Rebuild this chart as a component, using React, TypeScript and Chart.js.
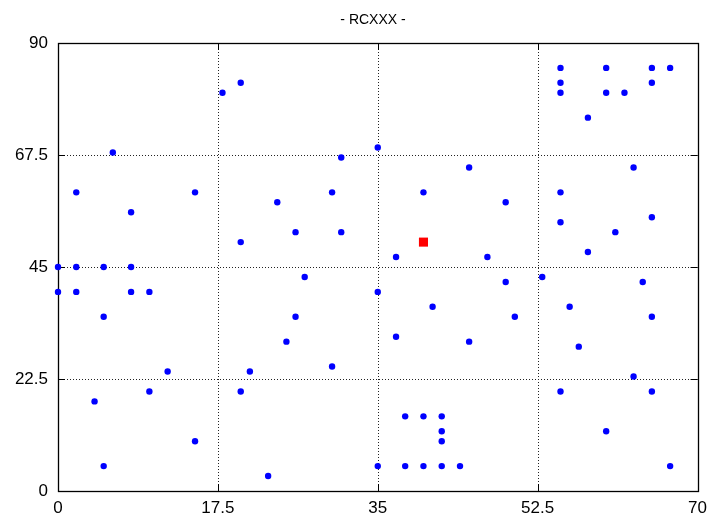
import React, { useEffect, useRef } from "react";
import { Chart, registerables } from "chart.js";

Chart.register(...registerables);

const chartTitle = "- RCXXX -";
const xTicks = [0, 17.5, 35, 52.5, 70];
const yTicks = [0, 22.5, 45, 67.5, 90];

const blueX = [
  0, 2, 5, 8, 2, 15, 6, 8, 18, 20, 20, 24, 26, 31, 30, 31, 35, 40, 45, 49,
  37, 47, 55, 60, 65, 67, 55, 65, 55, 60, 62, 58, 63, 55, 55, 65, 61, 58,
  0, 2, 8, 10, 5, 27, 26, 25, 30, 21, 12, 20, 10, 4, 15, 5, 23, 35, 35,
  41, 37, 45, 49, 53, 50, 56, 57, 64, 65, 63, 55, 65, 60, 67,
  38, 40, 42, 42, 42, 38, 40, 42, 44,
];
const blueY = [
  45, 45, 45, 45, 60, 60, 68, 56, 80, 82, 50, 58, 52, 52, 60, 67, 69, 60, 65, 58,
  47, 47, 85, 85, 85, 85, 82, 82, 80, 80, 80, 75, 65, 60, 54, 55, 52, 48,
  40, 40, 40, 40, 35, 43, 35, 30, 25, 24, 24, 20, 20, 18, 10, 5, 3, 40, 5,
  37, 31, 30, 42, 43, 35, 37, 29, 42, 35, 23, 20, 20, 12, 5,
  15, 15, 15, 12, 10, 5, 5, 5, 5,
];
const redX = [40];
const redY = [50];

const FONT = "'Liberation Sans', Arial, sans-serif";

const framePlugin = {
  id: "frame",
  beforeDatasetsDraw(chart: any) {
    const { ctx, chartArea } = chart;
    const { left, right, top, bottom } = chartArea;
    const xs = chart.scales.x;
    const ys = chart.scales.y;
    ctx.save();
    ctx.strokeStyle = "#000";
    ctx.lineWidth = 1;
    const line = (x1: number, y1: number, x2: number, y2: number) => {
      ctx.beginPath();
      ctx.moveTo(x1, y1);
      ctx.lineTo(x2, y2);
      ctx.stroke();
    };
    // dotted grid
    ctx.setLineDash([1, 2]);
    ctx.strokeStyle = "#222";
    for (const v of xTicks.slice(1, -1)) {
      const px = Math.round(xs.getPixelForValue(v)) + 0.5;
      line(px, top, px, bottom);
    }
    for (const v of yTicks.slice(1, -1)) {
      const py = Math.round(ys.getPixelForValue(v)) + 0.5;
      line(left, py, right, py);
    }
    ctx.setLineDash([]);
    ctx.strokeStyle = "#000";
    const tl = 7;
    for (const v of xTicks) {
      const px = Math.round(xs.getPixelForValue(v)) + 0.5;
      line(px, bottom, px, bottom - tl);
      line(px, top, px, top + tl);
    }
    for (const v of yTicks) {
      const py = Math.round(ys.getPixelForValue(v)) + 0.5;
      line(left, py, left + tl, py);
      line(right, py, right - tl, py);
    }
    ctx.lineWidth = 1.3;
    ctx.strokeRect(Math.round(left) + 0.5, Math.round(top) + 0.5, Math.round(right - left), Math.round(bottom - top));
    ctx.restore();
  },
  afterDraw(chart: any) {
    const { ctx } = chart;
    ctx.save();
    ctx.fillStyle = "#000";
    ctx.font = `14px ${FONT}`;
    ctx.textAlign = "center";
    ctx.textBaseline = "alphabetic";
    ctx.fillText(chartTitle, 373, 24);
    ctx.restore();
  },
};

export default function App() {
  const ref = useRef<HTMLCanvasElement | null>(null);
  useEffect(() => {
    document.body.style.margin = "0";
    if (!ref.current) return;
    const chart = new Chart(ref.current, {
      type: "scatter",
      data: {
        datasets: [
          {
            label: "blue",
            data: blueX.map((x, i) => ({ x, y: blueY[i] })),
            pointStyle: "circle",
            pointRadius: 3.2,
            pointBorderWidth: 0,
            backgroundColor: "#0000ff",
            borderColor: "#0000ff",
            clip: false as any,
          },
          {
            label: "red",
            data: redX.map((x, i) => ({ x, y: redY[i] })),
            pointStyle: "rect",
            pointRadius: 6.4,
            pointBorderWidth: 0,
            backgroundColor: "#ff0000",
            borderColor: "#ff0000",
            clip: false as any,
          },
        ],
      },
      options: {
        responsive: false,
        animation: false,
        events: [],
        layout: { padding: { left: 0, right: 15, top: 43, bottom: 0 } },
        plugins: {
          legend: { display: false },
          title: { display: false },
          tooltip: { enabled: false },
        },
        scales: {
          x: {
            type: "linear",
            min: 0,
            max: 70,
            afterBuildTicks: (s: any) => {
              s.ticks = xTicks.map((v) => ({ value: v }));
            },
            afterFit: (s: any) => {
              s.height = 29;
            },
            ticks: {
              color: "#000",
              font: { family: FONT, size: 17 },
              padding: 7,
              maxRotation: 0,
              callback: (v: any) => String(v),
            },
            grid: { display: false, drawTicks: false },
            border: { display: false },
          },
          y: {
            type: "linear",
            min: 0,
            max: 90,
            afterBuildTicks: (s: any) => {
              s.ticks = yTicks.map((v) => ({ value: v }));
            },
            afterFit: (s: any) => {
              s.width = 58;
            },
            ticks: {
              color: "#000",
              font: { family: FONT, size: 17 },
              padding: 10,
              callback: (v: any) => String(v),
            },
            grid: { display: false, drawTicks: false },
            border: { display: false },
          },
        },
      },
      plugins: [framePlugin],
    });
    return () => chart.destroy();
  }, []);
  return (
    <canvas
      ref={ref}
      width={714}
      height={520}
      style={{ display: "block", width: 714, height: 520 }}
    />
  );
}
